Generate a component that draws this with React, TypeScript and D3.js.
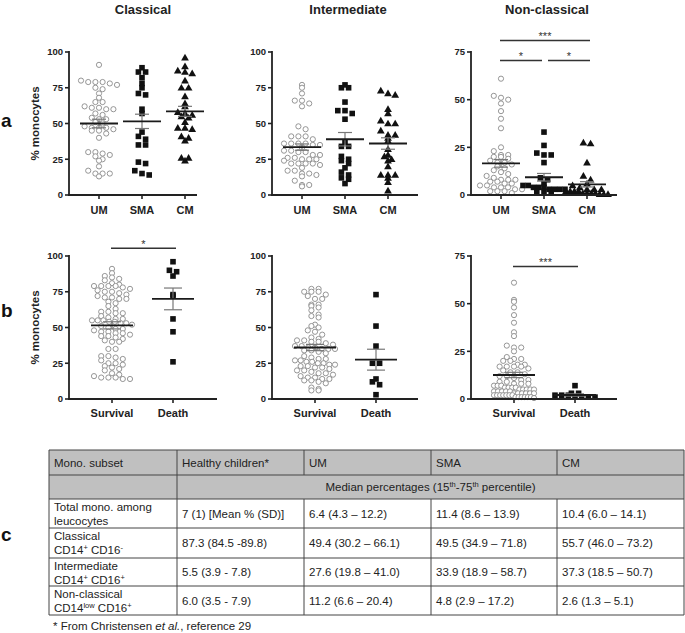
import React from 'react';
import * as d3 from 'd3';

// ---- data ----
const groupsA = ['UM', 'SMA', 'CM'];
const groupsB = ['Survival', 'Death'];
const panelTitles = ['Classical', 'Intermediate', 'Non-classical'];
const ticks100 = [0, 25, 50, 75, 100];
const ticks75 = [0, 25, 50, 75];

// row a : Classical
const aClassUM = [91, 80, 79, 79, 79, 78, 77, 75, 74, 71, 68, 65, 65, 62, 61, 61, 60, 60, 57, 56, 54, 53, 53, 51, 50, 48, 47, 47, 47, 46, 45, 45, 43, 40, 30, 30, 29, 28, 27, 25, 24, 20, 17, 15, 15, 15, 13];
const aClassSMA = [89, 86, 86, 82, 78, 75, 71, 70, 60, 57, 44, 41, 39, 35, 35, 23, 22, 17, 15, 14];
const aClassCM = [96, 90, 87, 86, 85, 80, 75, 75, 69, 64, 62, 58, 57, 56, 55, 54, 51, 47, 47, 46, 41, 40, 38, 26, 26, 24];
// row a : Intermediate
const aInterUM = [77, 75, 71, 66, 66, 64, 62, 48, 46, 41, 41, 41, 39, 36, 36, 36, 36, 35, 35, 33, 31, 31, 30, 30, 28, 28, 26, 26, 25, 25, 25, 24, 22, 22, 22, 22, 21, 19, 17, 17, 15, 15, 14, 13, 10, 7, 7, 6];
const aInterSMA = [77, 75, 75, 65, 59, 59, 57, 53, 37, 34, 34, 27, 25, 24, 22, 19, 16, 14, 12, 11, 8];
const aInterCM = [73, 71, 70, 60, 57, 52, 50, 50, 45, 42, 42, 40, 38, 32, 28, 27, 25, 24, 20, 14, 14, 14, 12, 9, 3];
// row a : Non-classical
const aNonUM = [61, 52, 51, 50, 48, 44, 40, 35, 25, 23, 21, 21, 20, 20, 19, 18, 17, 17, 16, 15, 14, 13, 12, 11, 10, 9, 8, 8, 8, 7, 7, 6, 6, 5, 5, 4, 4, 4, 3, 3, 2, 2, 2, 1];
const aNonSMA = [33, 26, 22, 21, 21, 17, 9, 8, 6, 5, 5, 4, 4, 4, 3, 3, 3, 3, 2, 2, 2];
const aNonCM = [27.5, 27, 17, 10, 8, 6, 5, 4, 3, 3, 3, 2, 2, 2, 2, 1, 1, 1, 1, 0.5, 0.5, 0.5];

// row b : Classical
const bClassSurv = [91, 88, 86, 85, 84, 83, 81, 80, 79, 79, 79, 79, 78, 77, 76, 75, 75, 74, 73, 72, 71, 71, 70, 70, 68, 67, 65, 63, 61, 61, 60, 60, 58, 57, 56, 56, 55, 55, 55, 54, 54, 53, 53, 52, 51, 50, 49, 49, 48, 47, 47, 46, 46, 45, 44, 44, 43, 42, 41, 40, 40, 35, 35, 30, 30, 29, 28, 27, 25, 25, 24, 23, 22, 21, 20, 18, 17, 16, 15, 15, 15, 14, 14];
const bClassDeath = [96, 90, 89, 86, 73, 72, 56, 47, 26];
// row b : Intermediate
const bInterSurv = [77, 77, 75, 75, 75, 73, 72, 70, 70, 66, 66, 65, 64, 62, 59, 58, 57, 52, 51, 50, 48, 47, 45, 43, 42, 41, 41, 40, 40, 39, 38, 37, 37, 36, 36, 35, 35, 35, 34, 34, 33, 32, 30, 29, 28, 28, 27, 27, 26, 26, 25, 25, 24, 24, 23, 23, 22, 22, 21, 20, 20, 19, 18, 18, 17, 16, 15, 15, 14, 14, 13, 13, 12, 11, 8, 7, 6, 6];
const bInterDeath = [73, 51, 37, 25, 25, 14, 12, 10, 3];
// row b : Non-classical
const bNonSurv = [61, 52, 51, 48, 44, 40, 35, 33, 28, 27, 27, 25, 22, 21, 21, 20, 20, 18, 18, 17, 17, 17, 17, 16, 15, 14, 14, 13, 12, 12, 11, 10, 10, 9, 9, 8, 8, 8, 7, 7, 7, 6, 6, 6, 6, 5, 5, 5, 5, 5, 4, 4, 4, 4, 4, 3, 3, 3, 3, 3, 3, 2, 2, 2, 2, 2, 2, 2, 1, 1, 1, 1, 1, 1, 0.5];
const bNonDeath = [7, 3, 3, 2, 2, 2, 1, 1, 1, 1];

// mean +/- SEM as drawn
const meansA = [[50, 51.5, 58.5], [33.5, 39, 36], [16.6, 9.3, 5.6]];
const semsA = [[3, 5, 3.5], [2.2, 4.7, 4], [2, 2, 1.4]];
const meansB = [[51.5, 70], [36, 27.5], [12.6, 2.1]];
const semsB = [[2.5, 7.6], [2.2, 7.3], [1.4, 0.6]];

// significance bars: [from, to, y value, label]
const sigA3: [number, number, number, string][] = [[0, 2, 81, '***'], [0, 1, 70.5, '*'], [1, 2, 70.5, '*']];
const sigB1: [number, number, number, string][] = [[0, 1, 105.5, '*']];
const sigB3: [number, number, number, string][] = [[0, 1, 69.5, '***']];

// table
const tableHead = ['Mono. subset', 'Healthy children*', 'UM', 'SMA', 'CM'];
const tableSpan = 'Median percentages (15^{th}-75^{th} percentile)';
const tableRowLabels = [['Total mono. among', 'leucocytes'], ['Classical', 'CD14^{+} CD16^{-}'], ['Intermediate', 'CD14^{+} CD16^{+}'], ['Non-classical', 'CD14^{low} CD16^{+}']];
const healthyCol = ['7 (1) [Mean % (SD)]', '87.3 (84.5 -89.8)', '5.5 (3.9 - 7.8)', '6.0 (3.5 - 7.9)'];
const umCol = ['6.4 (4.3 – 12.2)', '49.4 (30.2 – 66.1)', '27.6 (19.8 – 41.0)', '11.2 (6.6 – 20.4)'];
const smaCol = ['11.4 (8.6 – 13.9)', '49.5 (34.9 – 71.8)', '33.9 (18.9 – 58.7)', '4.8 (2.9 – 17.2)'];
const cmCol = ['10.4 (6.0 – 14.1)', '55.7 (46.0 – 73.2)', '37.3 (18.5 – 50.7)', '2.6 (1.3 – 5.1)'];

const FONT = '"Liberation Sans", Arial, Helvetica, sans-serif';

type Pt = { x: number; y: number };

// prism-like scatter: points in the same horizontal band are laid out in a row
function swarm(values: number[], y: d3.ScaleLinear<number, number>, cx: number, band: number, gap: number, maxHalf: number): Pt[] {
  const out: Pt[] = new Array(values.length);
  const bins = d3.group(d3.range(values.length), (i) => Math.floor(y(values[i]) / band));
  bins.forEach((idx) => {
    const n = idx.length;
    let step = gap;
    if (n > 1 && ((n - 1) * step) / 2 > maxHalf) step = (2 * maxHalf) / (n - 1);
    idx.forEach((i, k) => {
      out[i] = { x: cx + (k - (n - 1) / 2) * step, y: y(values[i]) };
    });
  });
  return out;
}

const triPath = d3.symbol(d3.symbolTriangle, 26)() as string;

function Marker({ kind, x, y }: { kind: string; x: number; y: number }) {
  if (kind === 'circle')
    return <circle cx={x} cy={y} r={2.6} fill="#fff" stroke="#8a8a8a" strokeWidth={0.9} />;
  if (kind === 'square') return <rect x={x - 2.8} y={y - 2.8} width={5.6} height={5.6} fill="#111" />;
  return <path d={triPath} transform={`translate(${x},${y + 0.6})`} fill="#111" />;
}

type Panel = {
  ax: number;
  top: number;
  bottom: number;
  end: number;
  c0: number;
  c1: number;
  yMax: number;
  ticks: number[];
  groups: string[];
  kinds: string[];
  series: number[][];
  means: number[];
  sems: number[];
  sig: [number, number, number, string][];
  meanHalf: number;
  capHalf: number;
  spread: number;
  labelY: number;
};

function ScatterPanel({ p }: { p: Panel }) {
  const y = d3.scaleLinear().domain([0, p.yMax]).range([p.bottom, p.top]);
  const x = d3.scalePoint<string>().domain(p.groups).range([p.c0, p.c1]);
  return (
    <g fontFamily={FONT}>
      {p.series.map((vals, gi) => {
        const cx = x(p.groups[gi]) as number;
        const pts = swarm(vals, y, cx, 5, 7.2, p.spread);
        return (
          <g key={gi}>
            {pts.map((pt, i) => (
              <Marker key={i} kind={p.kinds[gi]} x={pt.x} y={pt.y} />
            ))}
          </g>
        );
      })}
      {p.means.map((m, gi) => {
        const cx = x(p.groups[gi]) as number;
        const hi = y(m + p.sems[gi]);
        const lo = y(Math.max(0, m - p.sems[gi]));
        return (
          <g key={'m' + gi}>
            <line x1={cx} x2={cx} y1={hi} y2={lo} stroke="#777" strokeWidth={1.2} />
            <line x1={cx - p.capHalf} x2={cx + p.capHalf} y1={hi} y2={hi} stroke="#777" strokeWidth={1.2} />
            <line x1={cx - p.capHalf} x2={cx + p.capHalf} y1={lo} y2={lo} stroke="#777" strokeWidth={1.2} />
            <line x1={cx - p.meanHalf} x2={cx + p.meanHalf} y1={y(m)} y2={y(m)} stroke="#1a1a1a" strokeWidth={1.8} />
          </g>
        );
      })}
      {/* axes */}
      <line x1={p.ax} x2={p.ax} y1={p.top - 1} y2={p.bottom + 1} stroke="#222" strokeWidth={1.8} />
      <line x1={p.ax - 1} x2={p.end} y1={p.bottom} y2={p.bottom} stroke="#222" strokeWidth={1.8} />
      {p.ticks.map((t) => (
        <g key={t}>
          <line x1={p.ax - 4} x2={p.ax} y1={y(t)} y2={y(t)} stroke="#222" strokeWidth={1.6} />
          <text x={p.ax - 6} y={y(t)} dy="0.35em" textAnchor="end" fontSize={9.5} fontWeight="bold" fill="#222">
            {t}
          </text>
        </g>
      ))}
      {p.groups.map((g) => (
        <g key={g}>
          <line x1={x(g)} x2={x(g)} y1={p.bottom} y2={p.bottom + 4} stroke="#222" strokeWidth={1.6} />
          <text x={x(g)} y={p.labelY} textAnchor="middle" fontSize={11} fontWeight="bold" fill="#222">
            {g}
          </text>
        </g>
      ))}
      {p.sig.map(([a, b, v, lab], i) => {
        const xa = x(p.groups[a]) as number;
        const xb = x(p.groups[b]) as number;
        const sameRow = p.sig.filter((s) => s[2] === v).length > 1;
        const x1 = sameRow && a > 0 ? xa + 4 : xa - 1;
        const x2 = sameRow && b < p.groups.length - 1 ? xb - 2 : xb + 3;
        return (
          <g key={'s' + i}>
            <line x1={x1} x2={x2} y1={y(v)} y2={y(v)} stroke="#333" strokeWidth={1.5} />
            <text x={(x1 + x2) / 2} y={y(v) - 0.5} textAnchor="middle" fontSize={11} fill="#333">
              {lab}
            </text>
          </g>
        );
      })}
    </g>
  );
}

function Rich({ s, x, y, anchor = 'start' }: { s: string; x: number; y: number; anchor?: string }) {
  const parts = s.split(/(\^\{[^}]*\})/).filter((t) => t.length);
  let up = false;
  return (
    <text x={x} y={y} textAnchor={anchor} fontSize={11.5} fill="#222" fontFamily={FONT}>
      {parts.map((t, i) => {
        if (t.startsWith('^{')) {
          const el = (
            <tspan key={i} dy={up ? 0 : -4} fontSize={7.5}>
              {t.slice(2, -1)}
            </tspan>
          );
          up = true;
          return el;
        }
        const el = (
          <tspan key={i} dy={up ? 4 : 0}>
            {t}
          </tspan>
        );
        up = false;
        return el;
      })}
    </text>
  );
}

function Table() {
  const cx = [49, 177, 304, 431, 557, 684];
  const ry = [450, 475, 499, 528, 558, 586, 615];
  const gray = '#c0c0c0';
  const stroke = '#444';
  const body = [healthyCol, umCol, smaCol, cmCol];
  return (
    <g>
      <rect x={cx[0]} y={ry[0]} width={cx[5] - cx[0]} height={ry[2] - ry[0]} fill={gray} />
      {ry.map((yy, i) => (
        <line key={'h' + i} x1={cx[0]} x2={cx[5]} y1={yy} y2={yy} stroke={stroke} strokeWidth={1} />
      ))}
      {cx.map((xx, i) => (
        <g key={'v' + i}>
          <line x1={xx} x2={xx} y1={ry[0]} y2={ry[1]} stroke={stroke} strokeWidth={1} />
          {(i <= 1 || i === 5) && <line x1={xx} x2={xx} y1={ry[1]} y2={ry[2]} stroke={stroke} strokeWidth={1} />}
          <line x1={xx} x2={xx} y1={ry[2]} y2={ry[6]} stroke={stroke} strokeWidth={1} />
        </g>
      ))}
      {tableHead.map((h, i) => (
        <Rich key={h} s={h} x={cx[i] + 5} y={(ry[0] + ry[1]) / 2 + 4} />
      ))}
      <Rich s={tableSpan} x={(cx[1] + cx[5]) / 2} y={(ry[1] + ry[2]) / 2 + 4} anchor="middle" />
      {tableRowLabels.map((lines, r) => (
        <g key={'r' + r}>
          <Rich s={lines[0]} x={cx[0] + 5} y={ry[r + 2] + 12} />
          <Rich s={lines[1]} x={cx[0] + 5} y={ry[r + 2] + 26} />
          {body.map((col, c) => (
            <Rich key={c} s={col[r]} x={cx[c + 1] + 5} y={(ry[r + 2] + ry[r + 3]) / 2 + 4} />
          ))}
        </g>
      ))}
      <text x={53} y={630} fontSize={11.5} fill="#222" fontFamily={FONT}>
        * From Christensen <tspan fontStyle="italic">et al.</tspan>, reference 29
      </text>
    </g>
  );
}

export default function App() {
  const colAx = [69, 272, 471];
  const colEndA = [197, 418, 617];
  const colEndB = [217, 418, 617];
  const seriesA = [
    [aClassUM, aClassSMA, aClassCM],
    [aInterUM, aInterSMA, aInterCM],
    [aNonUM, aNonSMA, aNonCM],
  ];
  const seriesB = [
    [bClassSurv, bClassDeath],
    [bInterSurv, bInterDeath],
    [bNonSurv, bNonDeath],
  ];
  const panels: Panel[] = [];
  for (let c = 0; c < 3; c++) {
    panels.push({
      ax: colAx[c], top: 52, bottom: 195, end: colEndA[c], c0: colAx[c] + 30, c1: colAx[c] + 116,
      yMax: c === 2 ? 75 : 100, ticks: c === 2 ? ticks75 : ticks100, groups: groupsA,
      kinds: ['circle', 'square', 'triangle'], series: seriesA[c], means: meansA[c], sems: semsA[c],
      sig: c === 2 ? sigA3 : [], meanHalf: 19, capHalf: 7, spread: 21, labelY: 213.5,
    });
  }
  for (let c = 0; c < 3; c++) {
    panels.push({
      ax: colAx[c], top: 256, bottom: 399, end: colEndB[c], c0: colAx[c] + 43, c1: colAx[c] + 104,
      yMax: c === 2 ? 75 : 100, ticks: c === 2 ? ticks75 : ticks100, groups: groupsB,
      kinds: ['circle', 'square'], series: seriesB[c], means: meansB[c], sems: semsB[c],
      sig: c === 0 ? sigB1 : c === 2 ? sigB3 : [], meanHalf: 21, capHalf: 9, spread: 20, labelY: 416.5,
    });
  }
  const titleX = [143, 348, 547];
  return (
    <svg width={685} height={633} style={{ position: 'absolute', left: 0, top: 0, background: '#fff' }}>
      <rect width={685} height={633} fill="#fff" />
      {panelTitles.map((t, i) => (
        <text key={t} x={titleX[i]} y={14} textAnchor="middle" fontSize={13} fontWeight="bold" fill="#222" fontFamily={FONT}>
          {t}
        </text>
      ))}
      {[123.5, 327.5].map((cy, i) => (
        <text key={i} transform={`translate(39,${cy}) rotate(-90)`} textAnchor="middle" fontSize={11.5} fontWeight="bold" fill="#222" fontFamily={FONT}>
          % monocytes
        </text>
      ))}
      <text x={1} y={127} fontSize={19} fontWeight="bold" fill="#111" fontFamily={FONT}>a</text>
      <text x={1} y={317} fontSize={19} fontWeight="bold" fill="#111" fontFamily={FONT}>b</text>
      <text x={1} y={541} fontSize={19} fontWeight="bold" fill="#111" fontFamily={FONT}>c</text>
      {panels.map((p, i) => (
        <ScatterPanel key={i} p={p} />
      ))}
      <Table />
    </svg>
  );
}
